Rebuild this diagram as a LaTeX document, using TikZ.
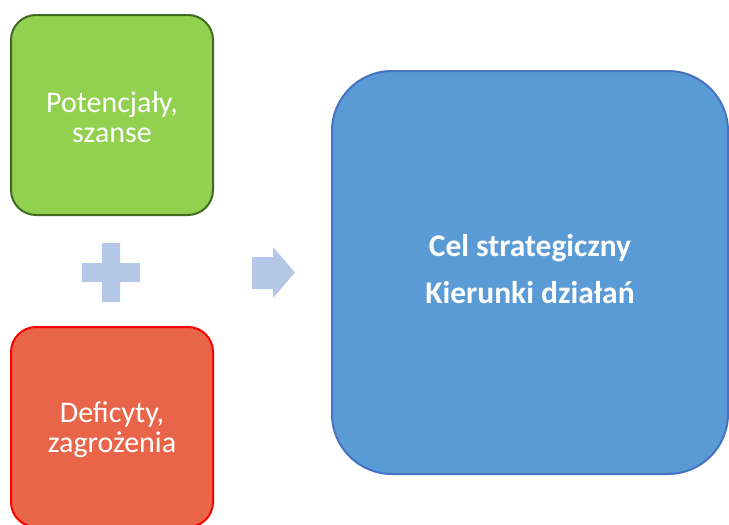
\documentclass[tikz,border=0pt]{standalone}
\usepackage{fontspec}
\setmainfont{Carlito}
\usepackage{xcolor}
\usetikzlibrary{positioning}

\definecolor{greenfill}{HTML}{92D050}
\definecolor{greenedge}{HTML}{3F6B1F}
\definecolor{redfill}{HTML}{E8654A}
\definecolor{blueFill}{HTML}{5B9BD5}
\definecolor{blueedge}{HTML}{4472C4}
\definecolor{signfill}{HTML}{B4C7E7}

\tikzset{
    factor/.style={rectangle, rounded corners=25pt, line width=2pt, minimum width=202pt,
        minimum height=200pt},
    goal/.style={rectangle, rounded corners=60pt, line width=2pt, draw=blueedge, fill=blueFill,
        minimum width=396pt, minimum height=403pt},
    label/.style={text=white, align=center, font=\fontsize{30}{30}\selectfont},
}

\begin{document}
\begin{tikzpicture}[x=1pt, y=-1pt]
        \useasboundingbox (0,0) rectangle (729,525);
        \node[factor, draw=greenedge, fill=greenfill] (chance) at (112,115) {};
        \node[factor, draw=red, fill=redfill] (risk) at (112,427) {};
        \node[goal] (target) at (530,272.5) {};
        % texts of the boxes
        \node[label] (chancetext) at (112,117) {Potencjały,\\szanse};
        \node[label] (risktext) at (112,430) {Deficyty,\\zagrożenia};
        \node[label, font=\bfseries\fontsize{31.5}{47}\selectfont] (targettext) at (530,269.5) {Cel strategiczny\\Kierunki działań};
        % plus
        \fill[signfill] (102,243) -- (120,243) -- (120,263) -- (140,263) -- (140,282) -- (120,282)
            -- (120,302) -- (102,302) -- (102,282) -- (82,282) -- (82,263) -- (102,263) -- cycle;
        % arrow
        \fill[signfill] (252,257) -- (273,257) -- (273,247) -- (295,272.5) -- (273,298)
            -- (273,289) -- (252,289) -- cycle;
    \end{tikzpicture}
\end{document}
